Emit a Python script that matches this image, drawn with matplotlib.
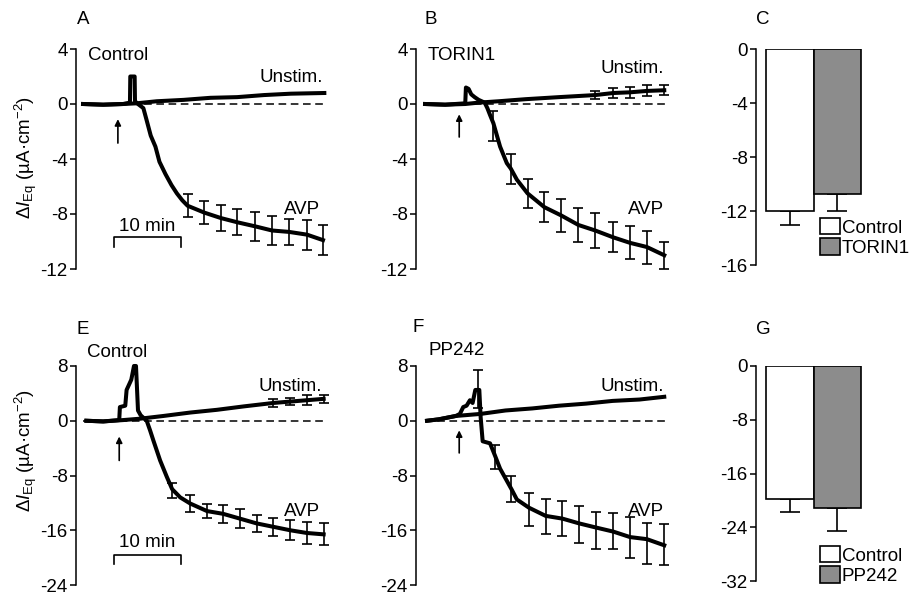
import matplotlib
matplotlib.use('Agg')
import matplotlib.pyplot as plt
from matplotlib.patches import Patch

plt.rcParams['font.family'] = ['Liberation Sans', 'DejaVu Sans']
plt.rcParams['mathtext.fontset'] = 'custom'
plt.rcParams['mathtext.rm'] = 'Liberation Sans'
plt.rcParams['mathtext.it'] = 'Liberation Sans:italic'
FS = 13.5

# ---------------- data (minutes, µA·cm-2) ----------------
# Panel A (Control)
A_unstim_t = [0, 3, 6, 8, 11, 15, 19, 23, 27, 31, 36]
A_unstim_v = [0, -0.05, 0, 0.05, 0.2, 0.3, 0.45, 0.5, 0.65, 0.75, 0.8]
A_avp_t = [0, 3, 6, 7.0, 7.05, 7.7, 7.75, 8.2, 9.0, 9.5, 10.1, 10.8, 11.4, 12.3, 13.2,
           14.0, 14.8, 15.6, 18.1, 20.6, 23.0, 25.7, 28.2, 30.7, 33.4, 35.8]
A_avp_v = [0, -0.05, 0, 0.1, 2.0, 2.0, 0.2, 0.0, -0.3, -1.2, -2.3, -3.1, -4.2, -5.1, -5.9,
           -6.5, -7.0, -7.4, -7.9, -8.3, -8.6, -8.9, -9.2, -9.3, -9.5, -9.9]
A_err_t = [15.6, 18.1, 20.6, 23.0, 25.7, 28.2, 30.7, 33.4, 35.8]
A_err_m = [-7.4, -7.9, -8.3, -8.6, -8.9, -9.2, -9.3, -9.5, -9.9]
A_err_s = [0.85, 0.85, 0.97, 0.95, 1.03, 1.03, 0.97, 1.1, 1.1]

# Panel B (TORIN1)
B_unstim_t = [0, 3, 6, 8, 11, 15, 20, 25.4, 28.1, 30.6, 33.1, 35.7]
B_unstim_v = [0, -0.05, 0, 0.1, 0.2, 0.35, 0.5, 0.65, 0.8, 0.85, 0.95, 1.0]
B_unstim_err_t = [25.4, 28.1, 30.6, 33.1, 35.7]
B_unstim_err_m = [0.65, 0.8, 0.85, 0.95, 1.0]
B_unstim_err_s = [0.3, 0.35, 0.4, 0.4, 0.35]
B_avp_t = [0, 3, 6.0, 6.1, 6.5, 6.9, 7.4, 8.0, 8.9, 9.3, 9.7, 10.2, 11.2, 12.2, 12.8, 13.7,
           15.3, 17.8, 20.3, 22.9, 25.4, 28.1, 30.6, 33.1, 35.7]
B_avp_v = [0, -0.05, 0.05, 1.2, 1.1, 0.7, 0.5, 0.3, 0.1, -0.3, -0.8, -1.4, -3.1, -4.3, -4.7, -5.5,
           -6.5, -7.5, -8.1, -8.8, -9.2, -9.7, -10.1, -10.4, -11.0]
B_err_t = [10.2, 12.8, 15.3, 17.8, 20.3, 22.9, 25.4, 28.1, 30.6, 33.1, 35.7]
B_err_m = [-1.6, -4.7, -6.5, -7.5, -8.1, -8.8, -9.2, -9.7, -10.1, -10.4, -11.0]
B_err_s = [1.07, 1.1, 1.03, 1.1, 1.2, 1.27, 1.27, 1.1, 1.2, 1.2, 0.97]

# Panel C (bar summary)
C_labels = ['Control', 'TORIN1']
C_mean = [-12.0, -10.74]
C_sem = [1.05, 1.26]

# Panel E (Control)
E_unstim_t = [0.5, 3, 6, 8.5, 12, 16, 20, 24, 28.4, 30.9, 33.4, 35.9]
E_unstim_v = [0, -0.1, 0.1, 0.3, 0.7, 1.2, 1.6, 2.1, 2.6, 2.8, 3.0, 3.2]
E_unstim_err_t = [28.4, 30.9, 33.4, 35.9]
E_unstim_err_m = [2.6, 2.8, 3.0, 3.2]
E_unstim_err_s = [0.6, 0.5, 0.7, 0.6]
E_avp_t = [0.5, 3, 5.4, 5.5, 6.3, 6.5, 7.2, 7.6, 7.9, 8.2, 8.6, 9.5, 10.0, 10.5, 11.5, 12.5,
           13.3, 14.5, 16.0, 18.5, 20.9, 23.4, 25.9, 28.4, 30.9, 33.4, 35.9]
E_avp_v = [0, -0.1, 0.1, 2.0, 2.2, 4.5, 6.0, 8.0, 8.0, 1.5, 0.8, 0.0, -1.4, -2.9, -5.8, -8.2,
           -10.0, -11.2, -12.1, -13.2, -13.6, -14.3, -15.0, -15.5, -16.0, -16.4, -16.6]
E_err_t = [13.3, 16.0, 18.5, 20.9, 23.4, 25.9, 28.4, 30.9, 33.4, 35.9]
E_err_m = [-10.2, -12.1, -13.2, -13.6, -14.3, -15.0, -15.5, -16.0, -16.4, -16.6]
E_err_s = [1.1, 1.2, 1.05, 1.3, 1.35, 1.2, 1.35, 1.45, 1.55, 1.6]

# Panel F (PP242)
F_unstim_t = [0.3, 2, 4.6, 8.3, 12, 16, 20, 24, 28, 32, 35.7]
F_unstim_v = [0, 0.2, 0.7, 1.0, 1.5, 1.8, 2.2, 2.5, 2.9, 3.1, 3.5]
F_avp_t = [0.3, 2, 4.6, 5.2, 5.7, 6.2, 6.7, 7.1, 7.5, 8.1, 8.3, 8.6, 9.7, 10.4, 11.2, 12.9,
           13.7, 15.5, 18.0, 20.5, 23.0, 25.5, 28.1, 30.6, 33.1, 35.7]
F_avp_v = [0, 0.2, 0.7, 1.0, 2.0, 2.2, 3.0, 2.6, 4.5, 4.5, 0.5, -3.0, -3.3, -5.0, -7.0, -10.0,
           -11.5, -12.7, -13.9, -14.3, -15.0, -15.6, -16.2, -17.0, -17.3, -18.2]
F_err_t = [7.9, 10.4, 12.9, 15.5, 18.0, 20.5, 23.0, 25.5, 28.1, 30.6, 33.1, 35.7]
F_err_m = [4.6, -5.3, -10.0, -13.0, -14.0, -14.3, -15.1, -16.0, -16.1, -17.1, -17.9, -18.1]
F_err_s = [2.8, 1.8, 1.9, 2.4, 2.5, 2.55, 2.7, 2.7, 2.6, 3.0, 3.0, 3.0]

# Panel G (bar summary)
G_labels = ['Control', 'PP242']
G_mean = [-19.8, -21.2]
G_sem = [1.9, 3.3]

# ---------------- figure ----------------
W, H = 916, 597
fig = plt.figure(figsize=(W / 100, H / 100), dpi=100)


def px_axes(left, top, right, bottom):
    return fig.add_axes([left / W, 1 - bottom / H, (right - left) / W, (bottom - top) / H])


def style(ax, ylim, yticks):
    ax.set_ylim(*ylim)
    ax.set_yticks(yticks)
    ax.set_yticklabels([str(v) for v in yticks], fontsize=FS)
    for s in ['top', 'right', 'bottom']:
        ax.spines[s].set_visible(False)
    ax.spines['left'].set_linewidth(1.1)
    ax.set_xticks([])
    ax.tick_params(axis='y', length=4, width=1.1, pad=2)
    ax.patch.set_alpha(0)


def trace_panel(ax, xlim, ylim, yticks, ut, uv, at, av, et, em, es,
                uet=None, uem=None, ues=None):
    style(ax, ylim, yticks)
    ax.set_xlim(*xlim)
    ax.plot([0, 36], [0, 0], color='black', lw=1.1, ls=(0, (5, 3)), zorder=1, clip_on=False)
    ax.plot(ut, uv, color='black', lw=2.9, solid_joinstyle='round', zorder=3, clip_on=False)
    ax.plot(at, av, color='black', lw=2.9, solid_joinstyle='round', zorder=3, clip_on=False)
    ax.errorbar(et, em, yerr=es, fmt='none', ecolor='black', elinewidth=1.2,
                capsize=3.5, capthick=1.2, zorder=2, clip_on=False)
    if uet is not None:
        ax.errorbar(uet, uem, yerr=ues, fmt='none', ecolor='black', elinewidth=1.2,
                    capsize=3.5, capthick=1.2, zorder=2, clip_on=False)


def arrow(ax, t, y0, y1):
    ax.annotate('', xy=(t, y1), xytext=(t, y0),
                arrowprops=dict(arrowstyle='-|>', lw=1.2, color='black', mutation_scale=9,
                                shrinkA=0, shrinkB=0))


def scale_bar(ax, start, length, y, tick, label_y):
    ax.plot([start, start, start + length, start + length], [y - tick, y, y, y - tick],
            color='black', lw=1.2, clip_on=False)
    ax.text(start + length / 2, label_y, '10 min', ha='center', va='center', fontsize=FS)


def bar_panel(ax, ylim, yticks, labels, mean, sem, legend_xy):
    style(ax, ylim, yticks)
    ax.set_xlim(-0.71, 2.32)
    colors = ['white', '#8c8c8c']
    x = list(range(len(mean)))
    ax.bar(x, mean, width=1.0, color=colors, edgecolor='black', linewidth=1.2, zorder=2)
    ax.errorbar(x, mean, yerr=[sem, [0] * len(sem)], fmt='none', ecolor='black',
                elinewidth=1.2, capsize=7, capthick=1.2, zorder=1)
    handles = [Patch(facecolor=c, edgecolor='black', linewidth=1.2) for c in colors]
    fig.legend(handles, labels, loc='upper left',
               bbox_to_anchor=(legend_xy[0] / W, 1 - legend_xy[1] / H),
               frameon=False, fontsize=FS, handlelength=1.05, handleheight=0.95,
               handletextpad=0.12, labelspacing=0.1, borderpad=0, borderaxespad=0)


# Panel A
axA = px_axes(76, 49, 326, 269)
trace_panel(axA, (-1.05, 36.25), (-12, 4), [4, 0, -4, -8, -12],
            A_unstim_t, A_unstim_v, A_avp_t, A_avp_v, A_err_t, A_err_m, A_err_s)
axA.text(0.75, 3.56, 'Control', ha='left', va='center', fontsize=FS)
axA.text(35.8, 1.9, 'Unstim.', ha='right', va='center', fontsize=FS)
axA.text(35.4, -7.7, 'AVP', ha='right', va='center', fontsize=FS)
arrow(axA, 5.2, -2.84, -1.1)
scale_bar(axA, 4.6, 10, -9.67, 0.75, -8.9)

# Panel B
axB = px_axes(416, 49, 668, 269)
trace_panel(axB, (-1.35, 36.26), (-12, 4), [4, 0, -4, -8, -12],
            B_unstim_t, B_unstim_v, B_avp_t, B_avp_v, B_err_t, B_err_m, B_err_s,
            B_unstim_err_t, B_unstim_err_m, B_unstim_err_s)
axB.text(0.45, 3.56, 'TORIN1', ha='left', va='center', fontsize=FS)
axB.text(35.7, 2.6, 'Unstim.', ha='right', va='center', fontsize=FS)
axB.text(35.7, -7.7, 'AVP', ha='right', va='center', fontsize=FS)
arrow(axB, 5.1, -2.4, -0.75)

# Panel C
axC = px_axes(756, 49, 900, 265)
bar_panel(axC, (-16, 0), [0, -4, -8, -12, -16], C_labels, C_mean, C_sem, (820, 218))

# Panel E
axE = px_axes(76, 366, 326, 585)
trace_panel(axE, (-1.05, 36.25), (-24, 8), [8, 0, -8, -16, -24],
            E_unstim_t, E_unstim_v, E_avp_t, E_avp_v, E_err_t, E_err_m, E_err_s,
            E_unstim_err_t, E_unstim_err_m, E_unstim_err_s)
axE.text(0.6, 9.9, 'Control', ha='left', va='center', fontsize=FS)
axE.text(35.7, 5.0, 'Unstim.', ha='right', va='center', fontsize=FS)
axE.text(35.4, -13.2, 'AVP', ha='right', va='center', fontsize=FS)
arrow(axE, 5.4, -5.8, -2.3)
scale_bar(axE, 4.6, 10, -19.6, 1.3, -17.8)

# Panel F
axF = px_axes(416, 366, 668, 585)
trace_panel(axF, (-1.35, 36.26), (-24, 8), [8, 0, -8, -16, -24],
            F_unstim_t, F_unstim_v, F_avp_t, F_avp_v, F_err_t, F_err_m, F_err_s)
axF.text(0.45, 10.2, 'PP242', ha='left', va='center', fontsize=FS)
axF.text(35.7, 5.0, 'Unstim.', ha='right', va='center', fontsize=FS)
axF.text(35.7, -13.2, 'AVP', ha='right', va='center', fontsize=FS)
arrow(axF, 5.1, -4.7, -1.4)

# Panel G
axG = px_axes(756, 366, 900, 581)
bar_panel(axG, (-32, 0), [0, -8, -16, -24, -32], G_labels, G_mean, G_sem, (820, 546))

# Panel letters
for letter, x, y in [('A', 77, 20), ('B', 425, 20), ('C', 756, 20),
                     ('E', 76, 329), ('F', 413, 327), ('G', 756, 329)]:
    fig.text(x / W, 1 - y / H, letter, ha='left', va='center', fontsize=FS)

# Y labels
ylab = 'Δ$I_{\\mathrm{Eq}}$ (µA·cm$^{-2}$)'
fig.text(26 / W, 1 - 157 / H, ylab, rotation=90, ha='center', va='center', fontsize=FS)
fig.text(26 / W, 1 - 450 / H, ylab, rotation=90, ha='center', va='center', fontsize=FS)

fig.savefig('out.png', dpi=100, facecolor='white')
